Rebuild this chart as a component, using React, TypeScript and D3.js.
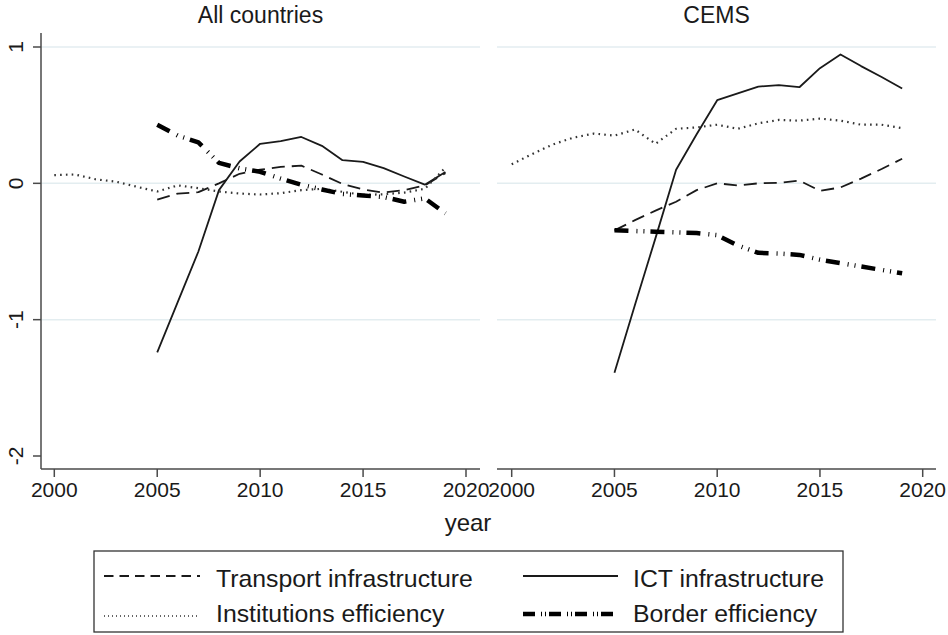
import React from 'react';
import * as d3 from 'd3';

// ---------- data ----------
const YEARS_FULL = [2000, 2001, 2002, 2003, 2004, 2005, 2006, 2007, 2008, 2009, 2010, 2011, 2012, 2013, 2014, 2015, 2016, 2017, 2018, 2019];
const YEARS_05 = [2005, 2006, 2007, 2008, 2009, 2010, 2011, 2012, 2013, 2014, 2015, 2016, 2017, 2018, 2019];

const PANEL_TITLES = ['All countries', 'CEMS'];
const X_TICKS = [2000, 2005, 2010, 2015, 2020];
const Y_TICKS = [-2, -1, 0, 1];
const GRID_VALUES = [-1, 0, 1];
const X_LABEL = 'year';
const SERIES_NAMES = ['Transport infrastructure', 'ICT infrastructure', 'Institutions efficiency', 'Border efficiency'];

// All countries
const allTransport = [-0.12, -0.075, -0.065, 0.0, 0.07, 0.1, 0.12, 0.13, 0.065, -0.005, -0.045, -0.068, -0.05, -0.015, 0.075];
const allICT = [-1.24, -0.87, -0.5, -0.05, 0.16, 0.29, 0.31, 0.34, 0.275, 0.17, 0.158, 0.112, 0.05, -0.01, 0.083];
const allInstitutions = [0.06, 0.065, 0.03, 0.012, -0.025, -0.06, -0.015, -0.035, -0.06, -0.075, -0.082, -0.072, -0.05, -0.04, -0.062, -0.085, -0.08, -0.068, -0.04, 0.115];
const allBorder = [0.43, 0.35, 0.3, 0.15, 0.11, 0.085, 0.035, -0.01, -0.045, -0.078, -0.09, -0.1, -0.135, -0.11, -0.22];

// CEMS
const cemsTransport = [-0.345, -0.27, -0.2, -0.135, -0.05, 0.0, -0.015, 0.0, 0.003, 0.02, -0.055, -0.03, 0.035, 0.105, 0.18];
const cemsICT = [-1.39, -0.89, -0.4, 0.1, 0.36, 0.61, 0.66, 0.71, 0.72, 0.705, 0.845, 0.945, 0.86, 0.78, 0.695];
const cemsInstitutions = [0.14, 0.215, 0.285, 0.335, 0.365, 0.35, 0.395, 0.29, 0.4, 0.41, 0.43, 0.4, 0.44, 0.465, 0.46, 0.475, 0.46, 0.43, 0.43, 0.405];
const cemsBorder = [-0.345, -0.35, -0.355, -0.36, -0.365, -0.38, -0.455, -0.51, -0.515, -0.525, -0.56, -0.585, -0.61, -0.635, -0.66];

// ---------- styles ----------
const FONT = '"Liberation Sans", Arial, Helvetica, sans-serif';
const INK = '#1a1a1a';
const AXIS = '#4a4a4a';
const GRID = '#e3edf0';

const STYLES = [
  { dash: '13,7', width: 1.8, color: INK, legendDash: '9.5,6' },
  { dash: undefined, width: 1.8, color: INK, legendDash: undefined },
  { dash: '1.6,4.2', width: 2.2, color: '#333', legendDash: '1,3' },
  { dash: '14,8,1,6,1,6', width: 4.5, color: '#000', legendDash: '12,6,1,3,1,3' },
];

const PANELS = [
  { title: PANEL_TITLES[0], x0: 41, x1: 480, r0: 54.3, r1: 466, yAxis: true,
    series: [
      { years: YEARS_05, values: allTransport },
      { years: YEARS_05, values: allICT },
      { years: YEARS_FULL, values: allInstitutions },
      { years: YEARS_05, values: allBorder },
    ] },
  { title: PANEL_TITLES[1], x0: 497, x1: 936, r0: 511.7, r1: 922.7, yAxis: false,
    series: [
      { years: YEARS_05, values: cemsTransport },
      { years: YEARS_05, values: cemsICT },
      { years: YEARS_FULL, values: cemsInstitutions },
      { years: YEARS_05, values: cemsBorder },
    ] },
];

const Y_TOP = 33;
const Y_BOTTOM = 469;

export default function App() {
  const y = d3.scaleLinear().domain([-2, 1]).range([456, 47]);

  return (
    <svg width={948} height={635} style={{ position: 'absolute', left: 0, top: 0, background: '#fff' }}
      fontFamily={FONT}>
      <rect x={0} y={0} width={948} height={635} fill="#fff" />
      {PANELS.map((p, pi) => {
        const x = d3.scaleLinear().domain([2000, 2020]).range([p.r0, p.r1]);
        const cx = (p.x0 + p.x1) / 2;
        return (
          <g key={pi}>
            <text x={cx} y={22.5} textAnchor="middle" fontSize={23} fill={INK}>{p.title}</text>
            {GRID_VALUES.map((g) => (
              <line key={g} x1={p.x0} x2={p.x1} y1={y(g)} y2={y(g)} stroke={GRID} strokeWidth={1.5} />
            ))}
            {p.yAxis && (
              <g>
                <line x1={p.x0} x2={p.x0} y1={Y_TOP} y2={Y_BOTTOM} stroke={AXIS} strokeWidth={1.5} />
                {Y_TICKS.map((t) => (
                  <g key={t}>
                    <line x1={p.x0 - 8} x2={p.x0} y1={y(t)} y2={y(t)} stroke={AXIS} strokeWidth={1.5} />
                    <text transform={`translate(23,${y(t)}) rotate(-90)`} textAnchor="middle" fontSize={21} fill={INK}>{t}</text>
                  </g>
                ))}
              </g>
            )}
            <line x1={p.x0} x2={p.x1} y1={Y_BOTTOM} y2={Y_BOTTOM} stroke={AXIS} strokeWidth={1.5} />
            {X_TICKS.map((t) => (
              <g key={t}>
                <line x1={x(t)} x2={x(t)} y1={Y_BOTTOM} y2={Y_BOTTOM + 8} stroke={AXIS} strokeWidth={1.5} />
                <text x={x(t)} y={497} textAnchor="middle" fontSize={21} fill={INK}>{t}</text>
              </g>
            ))}
            {p.series.map((s, si) => {
              const st = STYLES[si];
              const line = d3.line<number>()
                .x((_, i) => x(s.years[i]))
                .y((v) => y(v));
              return (
                <path key={si} d={line(s.values) || ''} fill="none" stroke={st.color}
                  strokeWidth={st.width} strokeDasharray={st.dash} strokeLinejoin="round" />
              );
            })}
          </g>
        );
      })}
      <text x={468} y={531} textAnchor="middle" fontSize={24} fill={INK}>{X_LABEL}</text>
      <rect x={94} y={551} width={749} height={81} fill="#fff" stroke="#333" strokeWidth={1.3} />
      {SERIES_NAMES.map((name, i) => {
        const col = i % 2;
        const row = Math.floor(i / 2);
        const sx0 = col === 0 ? 104 : 523;
        const sx1 = col === 0 ? 200 : 618;
        const tx = col === 0 ? 216 : 633;
        const ly = row === 0 ? 576 : (i === 2 ? 616 : 614);
        const ty = row === 0 ? 586.5 : 621.5;
        const st = STYLES[i];
        return (
          <g key={name}>
            <line x1={sx0} x2={sx1} y1={ly} y2={ly} stroke={st.color}
              strokeWidth={i === 2 ? 1.6 : st.width} strokeDasharray={st.legendDash} />
            <text x={tx} y={ty} fontSize={24.8} fill={INK}>{name}</text>
          </g>
        );
      })}
    </svg>
  );
}
